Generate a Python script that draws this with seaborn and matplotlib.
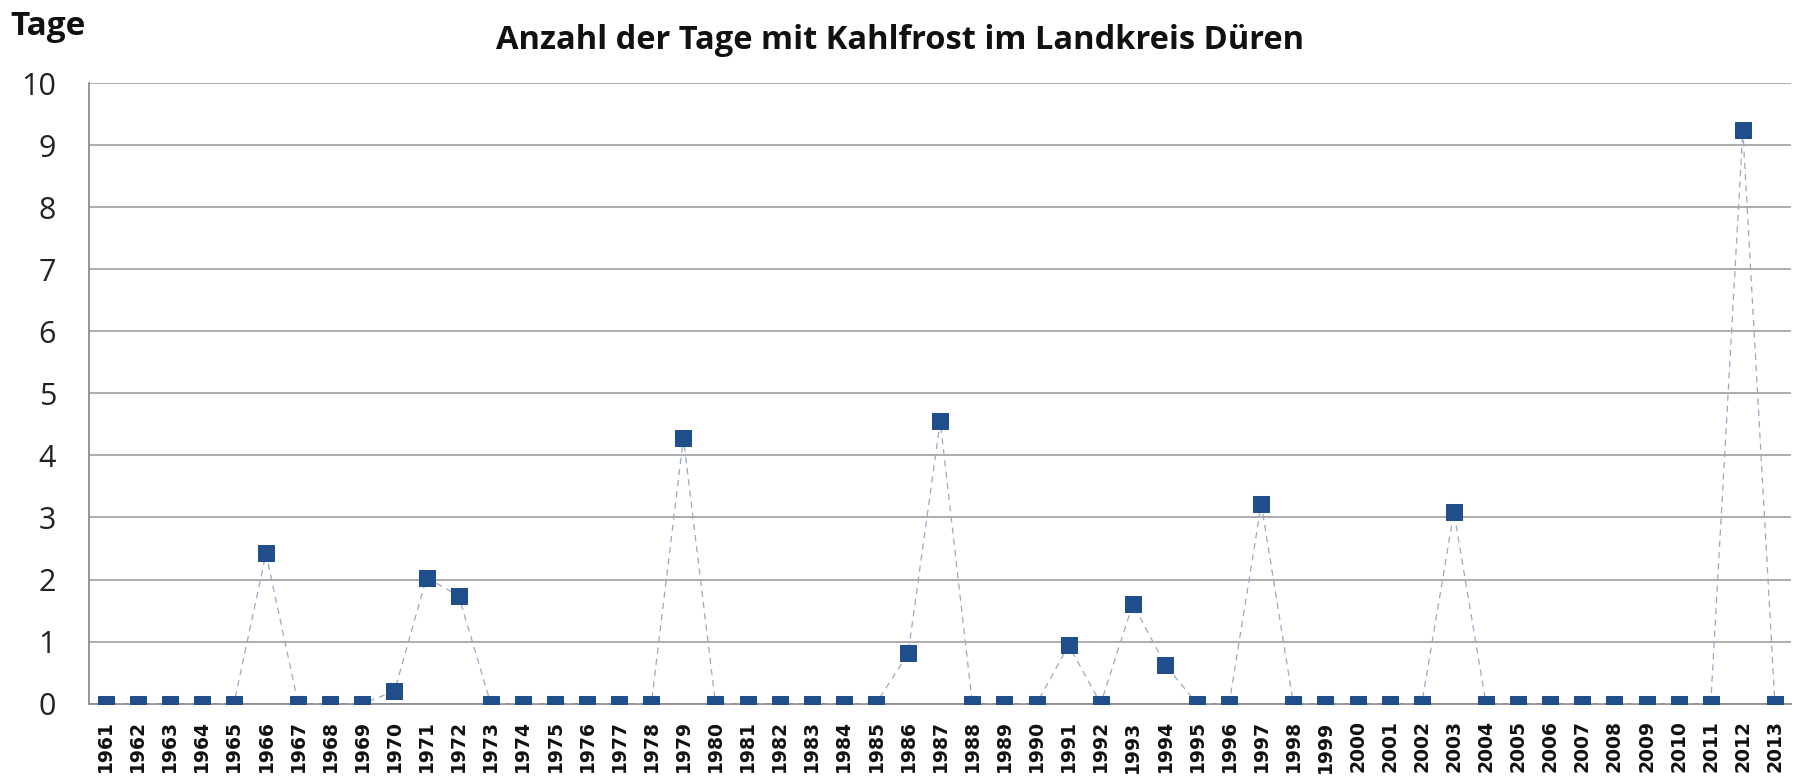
import matplotlib
matplotlib.use("Agg")
import matplotlib.pyplot as plt
import seaborn as sns
import numpy as np
import pandas as pd
from matplotlib.ticker import FixedLocator

years = list(range(1961, 2014))
tage = [0, 0, 0, 0, 0, 2.42, 0, 0, 0, 0.2,
        2.03, 1.74, 0, 0, 0, 0, 0, 0, 4.28, 0,
        0, 0, 0, 0, 0, 0.81, 4.55, 0, 0, 0,
        0.94, 0, 1.61, 0.63, 0, 0, 3.22, 0, 0, 0,
        0, 0, 3.09, 0, 0, 0, 0, 0, 0, 0,
        0, 9.24, 0]
y_ticks = list(range(0, 11))

df = pd.DataFrame({"idx": np.arange(len(years)), "Jahr": years, "Tage": tage})

sns.set_theme(style="white")
plt.rcParams['font.family'] = ['Open Sans', 'DejaVu Sans']

fig = plt.figure(figsize=(18, 7.76), dpi=100)
ax = fig.add_axes([0.0497, 0.0932, 0.9453, 0.7998])

sns.lineplot(data=df, x="idx", y="Tage", ax=ax, color="#9aaac4", linewidth=0.9,
             linestyle=(0, (5, 4)), marker="s", markersize=12,
             markerfacecolor="#1f4e8a", markeredgecolor="#1f4e8a", zorder=3)

n = len(years)
ax.set_xlim(-0.5, n - 0.5)
ax.set_ylim(0, 10)
ax.set_yticks(y_ticks)
ax.set_yticklabels([str(v) for v in y_ticks], fontsize=22, color="#222222")
ax.set_xticks(np.arange(n))
ax.set_xticklabels([str(y) for y in years], rotation=90, fontsize=13.5,
                   fontweight="bold", color="#111111",
                   family=['Liberation Sans Narrow', 'DejaVu Sans'])
ax.xaxis.set_minor_locator(FixedLocator(np.arange(-0.5, n, 1.0)))
ax.tick_params(axis="x", which="major", length=0, pad=12)
ax.tick_params(axis="x", which="minor", length=9, width=1.2, color="#8c8c8c", direction="out")
ax.tick_params(axis="y", which="major", length=8, width=1.2, color="#8c8c8c", direction="out", pad=16)
ax.grid(axis="y", color="#a6a6a6", linewidth=1.3)
ax.set_axisbelow(True)
for side in ["top", "right"]:
    ax.spines[side].set_visible(False)
ax.spines["left"].set_color("#8c8c8c")
ax.spines["bottom"].set_color("#8c8c8c")
ax.spines["left"].set_linewidth(1.3)
ax.spines["bottom"].set_linewidth(1.3)
ax.set_xlabel("")
ax.set_ylabel("")

fig.text(0.5, 0.948, "Anzahl der Tage mit Kahlfrost im Landkreis Düren", ha="center",
         va="center", fontsize=23.5, fontweight="bold", color="#111111")
fig.text(0.006, 0.966, "Tage", ha="left", va="center", fontsize=24,
         fontweight="bold", color="#111111")

fig.savefig("out.png", dpi=100)
